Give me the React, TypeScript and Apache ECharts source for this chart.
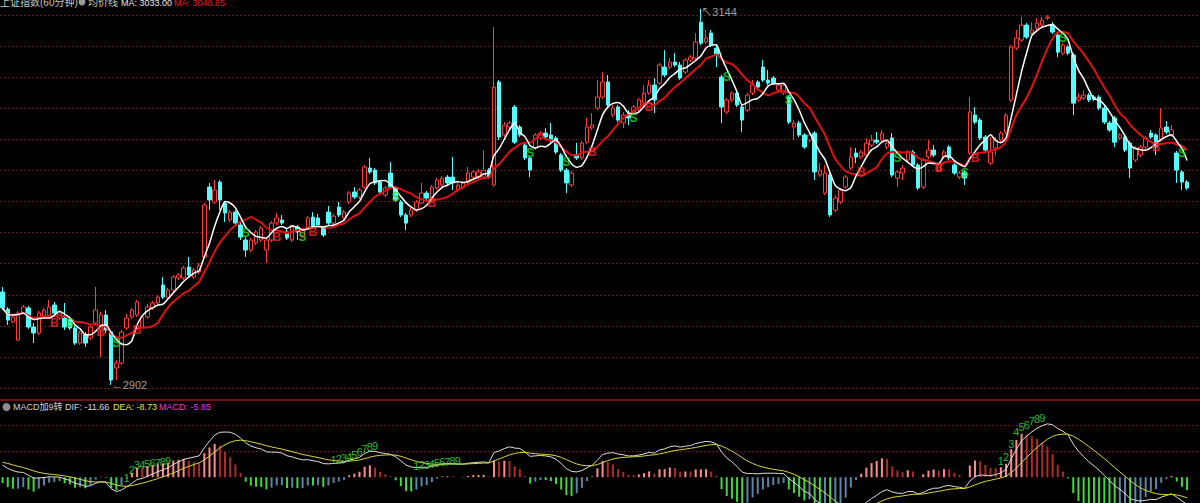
import React, { useEffect, useRef } from 'react';
import * as echarts from 'echarts';

const opens = [
  2961.8, 2950.8, 2942.5, 2930.9, 2948.2, 2951.5, 2939.2, 2935.4, 2945.7, 2945.7,
  2953.4, 2945.0, 2945.0, 2943.7, 2938.6, 2928.9, 2934.1, 2932.2, 2941.8, 2937.3,
  2947.0, 2936.0, 2912.9, 2916.1, 2938.6, 2945.7, 2947.0, 2939.2, 2945.7, 2951.5,
  2954.7, 2966.3, 2957.9, 2963.0, 2970.8, 2970.8, 2977.8, 2971.4, 2974.6, 2984.3,
  3029.3, 3019.7, 3032.5, 3019.0, 3008.1, 3013.2, 3004.9, 2995.2, 2988.8, 2993.3,
  2995.2, 2988.8, 2995.2, 3006.1, 3008.1, 3000.4, 2995.2, 3003.6, 2997.8, 3003.6,
  3010.0, 3009.4, 3002.9, 3013.2, 3006.1, 3016.4, 3009.4, 3019.7, 3026.1, 3022.9,
  3029.3, 3041.5, 3040.2, 3032.5, 3024.2, 3038.3, 3028.7, 3019.7, 3011.3, 3011.3,
  3014.5, 3019.0, 3025.4, 3021.0, 3028.7, 3030.6, 3035.7, 3035.7, 3027.4, 3029.3,
  3032.5, 3035.7, 3035.7, 3035.7, 3040.2, 3030.6, 3096.9, 3062.8, 3067.9, 3080.8,
  3067.9, 3056.3, 3048.0, 3054.4, 3060.8, 3064.0, 3062.8, 3060.8, 3049.9, 3040.2,
  3030.6, 3049.9, 3048.0, 3058.2, 3067.3, 3080.1, 3087.2, 3096.9, 3075.6, 3080.8,
  3070.5, 3075.6, 3077.6, 3078.8, 3083.3, 3089.8, 3094.9, 3096.2, 3106.5, 3106.5,
  3109.7, 3107.8, 3103.3, 3111.0, 3112.3, 3135.4, 3122.6, 3128.4, 3118.7, 3100.1,
  3077.6, 3085.3, 3089.8, 3080.8, 3078.8, 3089.8, 3096.9, 3106.5, 3098.1, 3099.4,
  3091.7, 3089.8, 3087.2, 3067.9, 3070.5, 3062.8, 3059.5, 3064.0, 3037.0, 3025.4,
  3037.0, 3014.5, 3019.7, 3029.3, 3041.5, 3051.2, 3048.6, 3049.9, 3056.3, 3059.5,
  3059.5, 3055.0, 3060.8, 3035.1, 3038.3, 3046.7, 3051.8, 3043.5, 3029.3, 3048.6,
  3053.1, 3040.2, 3048.6, 3055.0, 3043.5, 3035.7, 3039.0, 3051.2, 3075.6, 3072.4,
  3061.5, 3044.7, 3054.4, 3059.5, 3064.7, 3085.3, 3118.7, 3123.9, 3133.5, 3128.4,
  3131.6, 3133.5, 3138.0, 3133.5, 3127.1, 3115.5, 3119.4, 3114.2, 3085.3, 3086.6,
  3088.5, 3087.2, 3087.2, 3080.1, 3070.5, 3073.7, 3060.8, 3061.5, 3057.6, 3046.7,
  3049.9, 3055.0, 3064.0, 3062.8, 3059.5, 3067.9, 3062.8, 3051.2, 3039.0, 3032.5,
];

const closes = [
  2951.5, 2943.7, 2945.7, 2948.2, 2952.1, 2939.2, 2935.4, 2948.2, 2950.2, 2952.1,
  2948.2, 2948.2, 2939.2, 2938.6, 2928.9, 2935.4, 2928.9, 2939.2, 2950.2, 2947.0,
  2937.3, 2905.1, 2916.1, 2936.0, 2945.0, 2950.2, 2955.3, 2945.7, 2952.1, 2954.7,
  2958.5, 2958.5, 2963.0, 2971.4, 2972.7, 2977.2, 2972.7, 2975.9, 2978.5, 3017.7,
  3021.0, 3027.4, 3021.0, 3012.6, 3013.2, 3006.1, 2997.1, 2988.8, 2995.2, 3000.4,
  3002.9, 2995.2, 3006.1, 3009.4, 3006.1, 2996.5, 3003.6, 3000.4, 3001.6, 3009.4,
  3003.6, 3004.9, 2998.4, 3006.1, 3010.6, 3011.3, 3013.2, 3025.4, 3022.9, 3027.4,
  3042.2, 3039.0, 3031.9, 3026.1, 3028.7, 3029.3, 3021.0, 3011.3, 3006.1, 3014.5,
  3019.7, 3025.4, 3022.2, 3029.3, 3033.8, 3035.1, 3031.9, 3031.9, 3030.6, 3031.9,
  3038.3, 3039.0, 3039.0, 3040.2, 3035.7, 3093.6, 3061.5, 3069.2, 3070.5, 3058.2,
  3062.8, 3048.0, 3040.2, 3062.8, 3064.0, 3061.5, 3059.5, 3051.8, 3040.2, 3031.9,
  3038.3, 3048.0, 3057.6, 3067.9, 3069.2, 3087.2, 3096.9, 3082.1, 3080.1, 3072.4,
  3075.6, 3073.7, 3080.8, 3085.3, 3089.8, 3094.9, 3085.3, 3107.8, 3101.4, 3109.7,
  3107.8, 3099.4, 3111.0, 3112.9, 3122.6, 3121.9, 3125.2, 3120.6, 3114.2, 3080.8,
  3085.3, 3089.8, 3082.1, 3072.4, 3088.5, 3094.9, 3093.6, 3098.1, 3096.2, 3096.2,
  3094.9, 3094.9, 3071.1, 3070.5, 3062.8, 3055.0, 3062.8, 3039.0, 3040.2, 3038.3,
  3011.3, 3022.2, 3027.4, 3035.7, 3048.6, 3048.6, 3051.8, 3057.6, 3059.5, 3058.2,
  3064.0, 3057.6, 3037.0, 3039.0, 3041.5, 3051.8, 3043.5, 3028.7, 3046.7, 3053.1,
  3049.9, 3043.5, 3051.8, 3048.0, 3038.3, 3038.3, 3035.1, 3077.6, 3071.1, 3060.8,
  3053.1, 3051.8, 3059.5, 3064.0, 3075.6, 3119.4, 3125.2, 3133.5, 3125.8, 3130.3,
  3134.8, 3136.7, 3138.7, 3129.0, 3116.1, 3120.6, 3115.5, 3083.3, 3087.2, 3088.5,
  3085.3, 3085.9, 3080.1, 3071.1, 3066.0, 3058.2, 3062.8, 3053.1, 3041.5, 3054.4,
  3055.0, 3060.8, 3061.5, 3055.0, 3067.3, 3064.7, 3066.0, 3040.2, 3032.5, 3028.7,
];

const lows = [
  2950.2, 2940.5, 2941.8, 2930.2, 2947.6, 2938.0, 2928.9, 2934.1, 2945.0, 2945.0,
  2947.0, 2943.7, 2937.3, 2937.3, 2927.7, 2927.7, 2926.4, 2930.9, 2940.5, 2919.9,
  2935.4, 2902.0, 2905.1, 2914.8, 2937.3, 2944.4, 2945.7, 2938.0, 2944.4, 2950.2,
  2953.4, 2957.3, 2956.7, 2961.8, 2969.5, 2969.5, 2971.4, 2970.1, 2973.3, 2983.0,
  3014.5, 3018.4, 3014.5, 3006.8, 3006.8, 3004.9, 2995.2, 2984.3, 2987.5, 2992.0,
  2993.9, 2980.4, 2993.9, 3004.9, 3004.9, 2995.2, 2993.9, 2995.2, 2996.5, 3002.3,
  3002.3, 3003.6, 2997.1, 3004.9, 3004.9, 3010.0, 3008.1, 3018.4, 3021.6, 3021.6,
  3028.0, 3037.7, 3030.6, 3024.8, 3022.9, 3028.0, 3019.7, 3010.0, 3001.6, 3010.0,
  3013.2, 3018.4, 3021.0, 3019.7, 3027.4, 3029.3, 3030.6, 3027.4, 3026.1, 3028.0,
  3031.2, 3034.4, 3034.4, 3034.4, 3034.4, 3029.3, 3059.5, 3061.5, 3066.0, 3057.0,
  3061.5, 3046.7, 3035.7, 3053.1, 3059.5, 3060.2, 3058.2, 3050.5, 3039.0, 3025.4,
  3029.3, 3046.7, 3046.7, 3057.0, 3066.0, 3078.8, 3085.9, 3080.8, 3074.3, 3071.1,
  3067.3, 3069.2, 3076.3, 3077.6, 3082.1, 3088.5, 3076.9, 3094.9, 3100.1, 3105.2,
  3106.5, 3098.1, 3102.0, 3109.7, 3111.0, 3120.6, 3121.3, 3119.4, 3106.5, 3070.5,
  3076.3, 3084.0, 3080.8, 3064.7, 3077.6, 3088.5, 3091.7, 3096.9, 3094.9, 3094.9,
  3090.4, 3088.5, 3069.8, 3059.5, 3061.5, 3053.7, 3058.2, 3033.8, 3035.7, 3024.2,
  3010.0, 3013.2, 3018.4, 3028.0, 3040.2, 3044.7, 3047.3, 3048.6, 3055.0, 3057.0,
  3058.2, 3053.7, 3035.7, 3029.3, 3033.8, 3045.4, 3042.2, 3027.4, 3028.0, 3047.3,
  3048.6, 3039.0, 3047.3, 3046.7, 3037.0, 3034.4, 3030.6, 3049.9, 3069.8, 3059.5,
  3051.8, 3043.5, 3049.9, 3058.2, 3063.4, 3084.0, 3117.4, 3122.6, 3124.5, 3127.1,
  3130.3, 3132.2, 3136.7, 3127.7, 3112.9, 3114.2, 3114.2, 3075.6, 3084.0, 3085.3,
  3084.0, 3084.6, 3078.8, 3069.8, 3064.7, 3055.0, 3059.5, 3051.8, 3035.1, 3045.4,
  3048.6, 3053.7, 3060.2, 3049.9, 3058.2, 3063.4, 3061.5, 3031.9, 3027.4, 3027.4,
];

const highs = [
  2965.0, 2952.1, 2947.0, 2949.5, 2953.4, 2952.8, 2941.8, 2949.5, 2951.5, 2956.7,
  2955.3, 2949.5, 2954.7, 2945.0, 2939.9, 2936.7, 2936.0, 2940.5, 2965.0, 2948.9,
  2950.2, 2937.3, 2918.0, 2937.3, 2947.6, 2951.5, 2956.7, 2947.0, 2954.0, 2956.0,
  2959.8, 2971.4, 2964.3, 2972.7, 2974.0, 2978.5, 2984.3, 2977.2, 2980.4, 3019.0,
  3031.9, 3033.8, 3033.8, 3020.3, 3014.5, 3014.5, 3006.8, 2997.1, 2996.5, 3001.6,
  3004.2, 2996.5, 3007.4, 3012.6, 3011.3, 3002.9, 3004.9, 3004.9, 3002.9, 3010.6,
  3013.2, 3011.9, 3004.2, 3017.1, 3011.9, 3019.7, 3014.5, 3026.7, 3029.3, 3028.7,
  3043.5, 3048.0, 3041.5, 3033.8, 3030.0, 3045.4, 3030.0, 3021.0, 3012.6, 3015.8,
  3021.0, 3031.9, 3026.7, 3030.6, 3035.1, 3036.4, 3037.0, 3048.6, 3031.9, 3033.2,
  3042.2, 3040.2, 3040.9, 3053.1, 3041.5, 3132.2, 3098.1, 3071.1, 3071.8, 3082.1,
  3069.2, 3057.6, 3049.2, 3064.0, 3065.3, 3067.3, 3070.5, 3062.1, 3051.2, 3041.5,
  3039.6, 3057.6, 3058.9, 3073.7, 3076.9, 3098.1, 3103.3, 3101.4, 3082.1, 3082.1,
  3077.6, 3078.8, 3082.1, 3086.6, 3094.9, 3098.1, 3099.4, 3109.1, 3117.4, 3112.3,
  3115.5, 3109.7, 3112.3, 3114.2, 3128.4, 3144.0, 3130.3, 3130.3, 3120.6, 3101.4,
  3086.6, 3091.0, 3091.0, 3082.1, 3089.8, 3098.1, 3098.1, 3111.0, 3104.6, 3100.7,
  3096.2, 3096.2, 3088.5, 3072.4, 3071.8, 3064.0, 3064.0, 3065.3, 3044.7, 3043.5,
  3038.3, 3024.2, 3028.7, 3037.0, 3055.0, 3054.4, 3053.1, 3060.8, 3062.8, 3064.7,
  3066.0, 3058.9, 3064.0, 3040.2, 3043.5, 3053.1, 3053.1, 3044.7, 3048.0, 3059.5,
  3056.3, 3044.7, 3053.1, 3056.3, 3044.7, 3039.6, 3040.2, 3087.2, 3080.8, 3073.7,
  3062.8, 3061.5, 3061.5, 3065.3, 3076.9, 3120.6, 3130.3, 3138.7, 3134.8, 3135.4,
  3138.0, 3138.7, 3140.0, 3135.4, 3128.4, 3121.9, 3120.6, 3115.5, 3089.8, 3091.7,
  3089.8, 3088.5, 3088.5, 3081.4, 3071.8, 3075.0, 3064.0, 3062.8, 3058.9, 3055.7,
  3056.3, 3062.1, 3066.0, 3064.0, 3080.1, 3071.8, 3069.2, 3052.5, 3040.2, 3033.8,
];

// B / S signal markers: [candle index, price]
const buyPoints = [
  [10, 2941.8], [19, 2936.0], [26, 2937.3], [53, 2997.1], [60, 3000.4], [83, 3019.0],
  [114, 3051.8], [125, 3080.8], [166, 3039.0], [181, 3041.5], [188, 3048.0], [223, 3055.0],
];
const sellPoints = [
  [13, 2941.8], [22, 2928.9], [47, 2999.7], [58, 2997.1], [76, 3022.9], [102, 3051.2],
  [109, 3045.4], [122, 3073.7], [140, 3100.1], [152, 3085.3], [173, 3048.0], [186, 3038.3],
  [205, 3125.2], [228, 3051.2],
];
const lowMark = [21, 2902];
const highMark = [135, 3144];

// nine-turn counts in the MACD pane
const tdStarts = [24, 64, 80, 193];
const tdValues = [
  [-0.4, 3.0, 5.2, 5.4, 5.6, 5.9, 6.2, 6.5, 6.8],
  [7.2, 7.7, 8.2, 8.6, 9.3, 10.7, 12.1, 13.0, 13.5],
  [4.8, 5.2, 5.4, 5.7, 6.0, 6.3, 6.6, 6.8, 7.1],
  [7.1, 8.8, 14.1, 19.1, 21.3, 22.1, 24.1, 25.0, 25.4],
];

// MACD state before the first visible bar
const macdSeedFast = 2957;
const macdSeedSlow = 2951;
const macdSeedDea = 6.7;

const titleName = '上证指数(60分钟)';
const titleMaName = '均价线';
const titleMa1 = 'MA: 3033.00';
const titleMa2 = 'MA: 3048.85';
const legendDIF = '-11.66';
const legendDEA = '-8.73';
const legendMACD = '-5.85';

function movingAverage(n: number): number[] {
  return closes.map((_, i) => {
    const s = Math.max(0, i - n + 1);
    let sum = 0;
    for (let j = s; j <= i; j++) sum += closes[j];
    return +(sum / (i - s + 1)).toFixed(2);
  });
}

function macd() {
  let f = macdSeedFast, s = macdSeedSlow, dea = macdSeedDea;
  const dif: number[] = [], deaArr: number[] = [], hist: number[] = [];
  closes.forEach((c) => {
    f = (f * 11 + c * 2) / 13;
    s = (s * 25 + c * 2) / 27;
    const d = f - s;
    dea = (dea * 8 + d * 2) / 10;
    dif.push(+d.toFixed(3));
    deaArr.push(+dea.toFixed(3));
    hist.push(+(2 * (d - dea)).toFixed(3));
  });
  return { dif, dea: deaArr, hist };
}

const FONT = '"Liberation Sans", Arial, "Noto Sans CJK SC", sans-serif';

export default function App() {
  const ref = useRef<HTMLDivElement>(null);
  useEffect(() => {
    document.body.style.margin = '0';
    document.body.style.background = '#000';
    if (!ref.current) return;
    const chart = echarts.init(ref.current, undefined, { renderer: 'svg' });
    const n = closes.length;
    const cats = Array.from({ length: n + 2 }, (_, i) => String(i));
    const candles = closes.map((c, i) => [opens[i], c, lows[i], highs[i]]);
    const ma5 = movingAverage(5);
    const ma10 = movingAverage(10);
    const m = macd();
    const histData = m.hist.map((v, i) => {
      const prev = i > 0 ? m.hist[i - 1] : v;
      let color;
      if (v >= 0) color = v >= prev ? '#ff8c8c' : '#b02a2a';
      else color = v <= prev ? '#3fd83f' : '#5a86a8';
      return { value: v, itemStyle: { color } };
    });
    const tdData: any[] = [];
    tdStarts.forEach((st, k) => {
      tdValues[k].forEach((v, j) => tdData.push({ value: [st + j, v], name: String(j + 1) }));
    });
    const hidden = { show: false };
    const labelMarker = (text: string, color: string) => ({
      show: true,
      formatter: text,
      color,
      fontSize: 12,
      fontWeight: 'bold' as const,
      fontFamily: FONT,
      position: 'inside' as const,
    });
    const clear = 'rgba(0,0,0,0)';

    chart.setOption({
      animation: false,
      backgroundColor: '#000000',
      grid: [
        { left: 0, right: 0, top: 15, height: 373 },
        { left: 0, right: 0, top: 399.8, height: 105.6 },
      ],
      xAxis: [
        { type: 'category', gridIndex: 0, data: cats, boundaryGap: true, axisLine: hidden, axisTick: hidden, axisLabel: hidden, splitLine: hidden },
        { type: 'category', gridIndex: 1, data: cats, boundaryGap: true, axisLine: hidden, axisTick: hidden, axisLabel: hidden, splitLine: hidden },
      ],
      yAxis: [
        {
          type: 'value', gridIndex: 0, min: 2900, max: 3140, interval: 20,
          axisLine: hidden, axisTick: hidden, axisLabel: hidden,
          splitLine: { show: true, lineStyle: { color: '#6a1616', type: [2, 2], width: 1 } },
        },
        {
          type: 'value', gridIndex: 1, min: -11, max: 33, interval: 11,
          axisLine: hidden, axisTick: hidden, axisLabel: hidden,
          splitLine: { show: true, lineStyle: { color: [clear, clear, '#6a1616', '#6a1616', clear], type: [2, 2], width: 1 } },
        },
      ],
      series: [
        {
          type: 'candlestick', xAxisIndex: 0, yAxisIndex: 0, data: candles, barWidth: 4, clip: false,
          itemStyle: { color: '#000000', color0: '#54fcfc', borderColor: '#ff3c3c', borderColor0: '#54fcfc', borderWidth: 1 },
        },
        { type: 'line', xAxisIndex: 0, yAxisIndex: 0, data: ma10, showSymbol: false, symbol: 'none', smooth: 0.2, lineStyle: { color: '#e01010', width: 2 }, z: 3 },
        { type: 'line', xAxisIndex: 0, yAxisIndex: 0, data: ma5, showSymbol: false, symbol: 'none', smooth: 0.2, lineStyle: { color: '#ffffff', width: 1.5 }, z: 4 },
        {
          type: 'scatter', xAxisIndex: 0, yAxisIndex: 0, data: buyPoints, symbolSize: 1,
          itemStyle: { color: clear }, label: labelMarker('B', '#ff2a2a'), z: 6,
        },
        {
          type: 'scatter', xAxisIndex: 0, yAxisIndex: 0, data: sellPoints, symbolSize: 1,
          itemStyle: { color: clear }, label: labelMarker('S', '#22e022'), z: 6,
        },
        {
          type: 'scatter', xAxisIndex: 0, yAxisIndex: 0, data: [lowMark], symbolSize: 1, clip: false,
          itemStyle: { color: clear },
          label: { show: true, position: 'right', distance: 0, formatter: '←' + lowMark[1], color: '#c8c8c8', fontSize: 11, fontFamily: FONT },
        },
        {
          type: 'scatter', xAxisIndex: 0, yAxisIndex: 0, data: [highMark], symbolSize: 1, clip: false,
          itemStyle: { color: clear },
          label: { show: true, position: 'right', distance: 0, offset: [0, 3], formatter: '↖' + highMark[1], color: '#c8c8c8', fontSize: 11, fontFamily: FONT },
        },
        { type: 'bar', xAxisIndex: 1, yAxisIndex: 1, data: histData, barWidth: 2 },
        { type: 'line', xAxisIndex: 1, yAxisIndex: 1, data: m.dif, showSymbol: false, symbol: 'none', lineStyle: { color: '#dcdcdc', width: 1 } },
        { type: 'line', xAxisIndex: 1, yAxisIndex: 1, data: m.dea, showSymbol: false, symbol: 'none', lineStyle: { color: '#d6d640', width: 1 } },
        {
          type: 'scatter', xAxisIndex: 1, yAxisIndex: 1, data: tdData, symbolSize: 1,
          itemStyle: { color: clear },
          label: { show: true, position: 'inside', formatter: (p: any) => p.name, color: '#3ee03e', fontSize: 11, fontFamily: FONT },
          z: 6,
        },
      ],
      graphic: [
        { type: 'line', shape: { x1: 0, y1: 400, x2: 1200, y2: 400 }, style: { stroke: '#9a1616', lineWidth: 1.5 }, z: 10 },
        { type: 'text', x: 0, y: -3, style: { text: titleName, fill: '#c8c8c8', font: '10px ' + FONT }, z: 10 },
        { type: 'circle', shape: { cx: 82, cy: 2, r: 3.5 }, style: { fill: '#9a9a9a' }, z: 10 },
        { type: 'text', x: 88, y: -3, style: { text: titleMaName, fill: '#c8c8c8', font: '10px ' + FONT }, z: 10 },
        { type: 'text', x: 121, y: -2, style: { text: titleMa1, fill: '#e8e8e8', font: '9px ' + FONT }, z: 10 },
        { type: 'text', x: 174, y: -2, style: { text: titleMa2, fill: '#e02020', font: '9px ' + FONT }, z: 10 },
        { type: 'circle', shape: { cx: 6.5, cy: 407, r: 4 }, style: { fill: '#8c8c8c' }, z: 10 },
        { type: 'text', x: 13, y: 402, style: { text: 'MACD加9转', fill: '#d0d0d0', font: '9px ' + FONT }, z: 10 },
        { type: 'text', x: 65, y: 402, style: { text: 'DIF: ' + legendDIF, fill: '#d8d8d8', font: '9px ' + FONT }, z: 10 },
        { type: 'text', x: 113, y: 402, style: { text: 'DEA: ' + legendDEA, fill: '#e6e640', font: '9px ' + FONT }, z: 10 },
        { type: 'text', x: 159, y: 402, style: { text: 'MACD: ' + legendMACD, fill: '#e040e0', font: '9px ' + FONT }, z: 10 },
      ],
    });
    return () => chart.dispose();
  }, []);
  return <div ref={ref} style={{ width: 1200, height: 503, background: '#000' }} />;
}
